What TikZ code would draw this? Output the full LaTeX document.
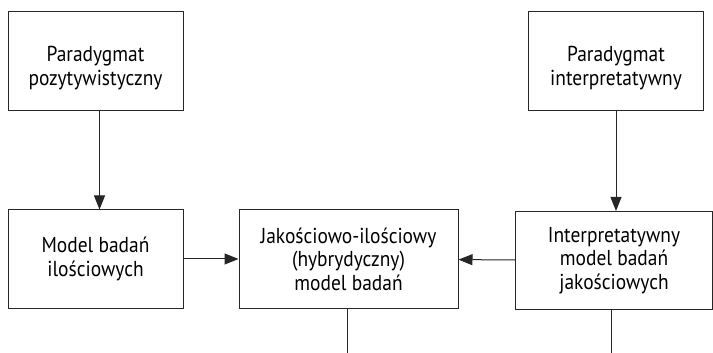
\documentclass[tikz,border=0pt]{standalone}
\usepackage{fontspec}
\setmainfont{PT Sans}[FakeStretch=0.9]
\usepackage{tikz}
\usetikzlibrary{arrows.meta,positioning}
\tikzset{
  paradigmbox/.style={draw=black!85,line width=0.5pt,align=center,
    minimum width=87.5pt,minimum height=49.5pt,text height=24pt,text depth=0pt,
    font=\fontsize{10.8}{11.8}\selectfont},
  modelbox/.style={draw=black!85,line width=0.5pt,align=center,
    minimum height=49pt,font=\fontsize{10.8}{11.8}\selectfont},
  flowarrow/.style={-{Triangle[length=7pt,width=5.5pt]},line width=0.5pt,draw=black!85},
  plainline/.style={line width=0.5pt,draw=black!85}
}
\begin{document}
\begin{tikzpicture}[x=0.5pt,y=-0.5pt]
  \useasboundingbox (0,0) rectangle (713,353);
  \node[paradigmbox] (pozyt) at (95.5,61.5) {Paradygmat\\pozytywistyczny};
  \node[paradigmbox] (interp) at (616,61.5) {Paradygmat\\interpretatywny};
  \node[modelbox,minimum width=87.5pt] (ilosc) at (95.5,259) {Model badań\\ilościowych};
  \node[modelbox,minimum width=109.5pt] (hybryd) at (348.5,259) {Jakościowo-ilościowy\\(hybrydyczny)\\model badań};
  \node[modelbox,minimum width=98.5pt] (jakosc) at (614,260.5) {Interpretatywny\\model badań\\jakościowych};
  \coordinate (hybrydend) at (347,353);
  \coordinate (jakoscend) at (611,353);
  \draw[flowarrow] ([xshift=2pt]pozyt.south) -- ([xshift=2pt]ilosc.north);
  \draw[flowarrow] (interp.south) -- (interp.south |- jakosc.north);
  \draw[flowarrow] (ilosc) -- (hybryd);
  \draw[flowarrow] (jakosc) -- (hybryd);
  \draw[plainline] (hybryd.south -| hybrydend) -- (hybrydend);
  \draw[plainline] (jakosc.south -| jakoscend) -- (jakoscend);
\end{tikzpicture}
\end{document}
